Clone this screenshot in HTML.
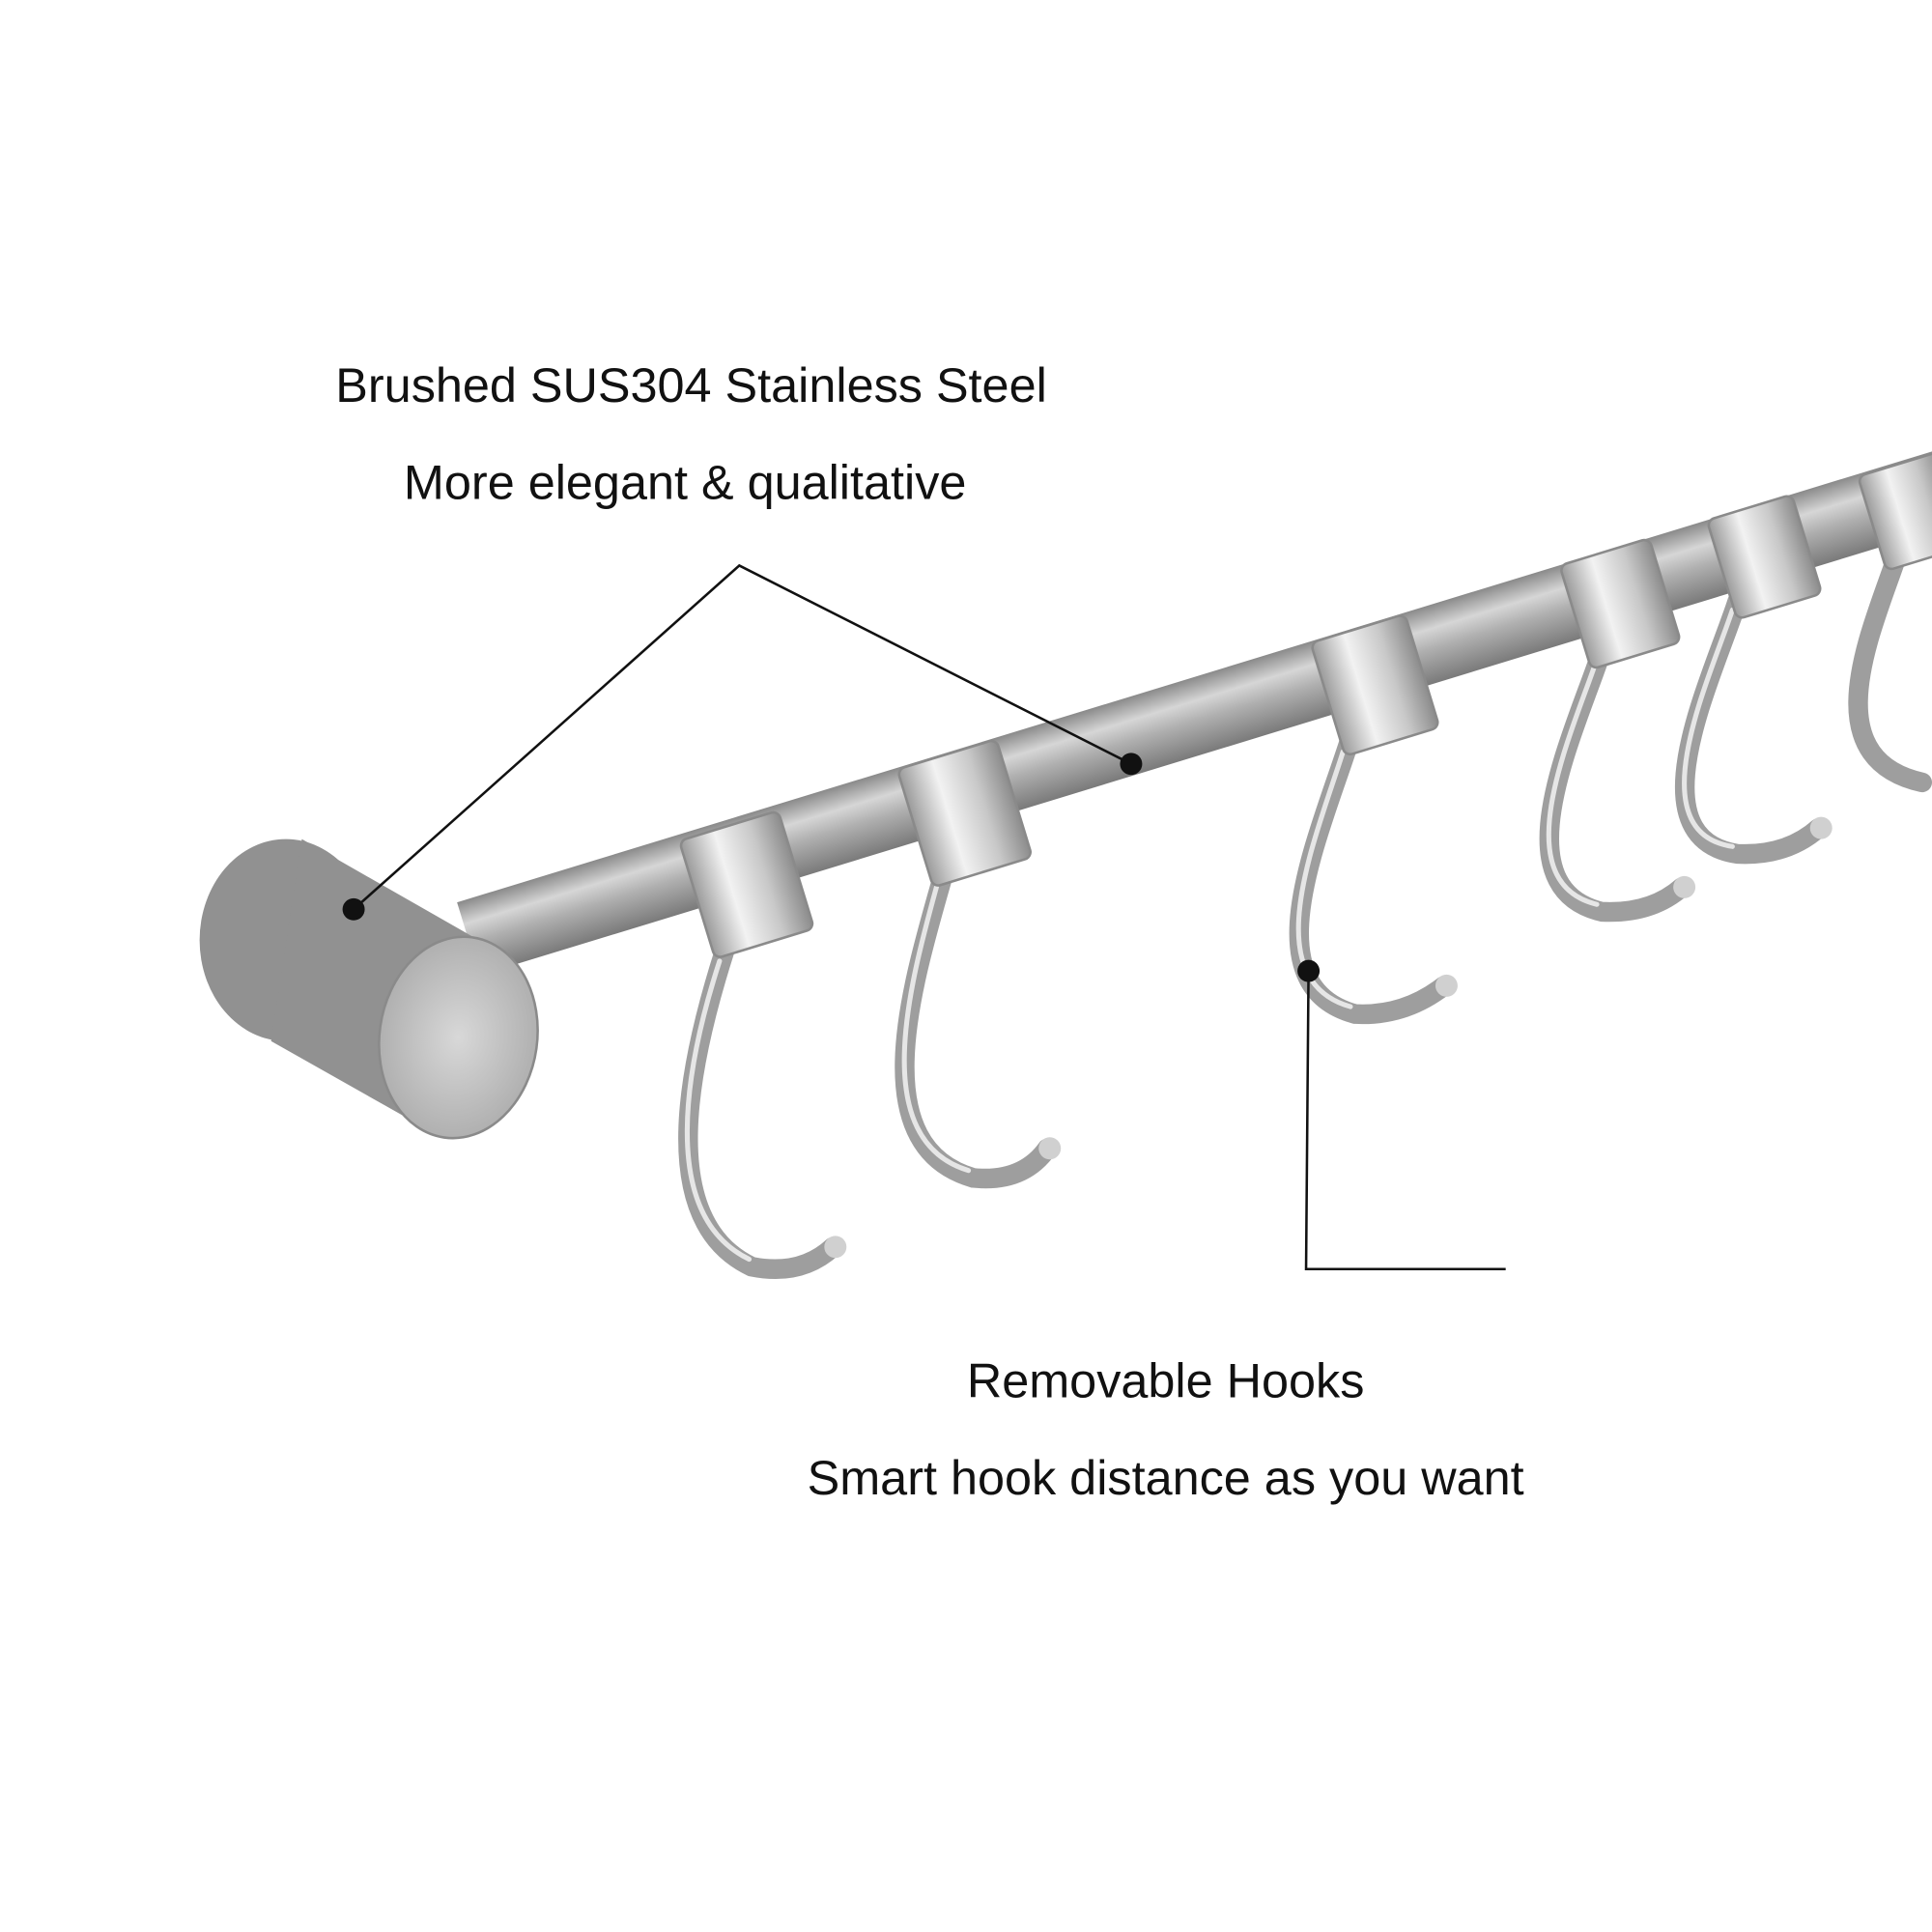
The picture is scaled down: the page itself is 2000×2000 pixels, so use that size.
<!DOCTYPE html>
<html><head><meta charset="utf-8"><style>
html,body{margin:0;padding:0;background:#fff;width:2000px;height:2000px;overflow:hidden}
svg{display:block}
text{font-family:"Liberation Sans",sans-serif;font-size:39.5px;fill:#111}
</style></head><body>
<svg width="2000" height="2000" viewBox="0 0 1568 1568" xmlns="http://www.w3.org/2000/svg">
<defs>
<linearGradient id="rod" x1="0" y1="0" x2="0" y2="1">
<stop offset="0" stop-color="#8a8a8a"/><stop offset="0.3" stop-color="#d6d6d6"/><stop offset="0.55" stop-color="#b0b0b0"/><stop offset="1" stop-color="#7a7a7a"/>
</linearGradient>
<linearGradient id="ring" x1="0" y1="0" x2="1" y2="0">
<stop offset="0" stop-color="#9a9a9a"/><stop offset="0.35" stop-color="#f2f2f2"/><stop offset="0.7" stop-color="#c8c8c8"/><stop offset="1" stop-color="#8c8c8c"/>
</linearGradient>
<radialGradient id="face" cx="0.5" cy="0.5" r="0.6">
<stop offset="0" stop-color="#d8d8d8"/><stop offset="1" stop-color="#a8a8a8"/>
</radialGradient>
</defs>
<rect width="1568" height="1568" fill="#fff"/>

<!-- rod -->
<g transform="translate(380,762) rotate(-17.0)">
<rect x="0" y="-31" width="1300" height="62" fill="url(#rod)"/>
</g>

<!-- hooks -->
<g fill="none" stroke="#9e9e9e" stroke-width="16" stroke-linecap="round">
<path d="M588,772 C560,860 530,990 610,1028 Q650,1036 676,1012"/>
<path d="M765,712 C740,800 700,930 790,956 Q830,960 850,932"/>
<path d="M1095,602 C1070,680 1015,800 1100,823 Q1140,825 1172,800"/>
<path d="M1300,528 C1280,590 1215,720 1300,740 Q1340,742 1365,720"/>
<path d="M1410,488 C1390,550 1325,680 1410,693 Q1450,695 1476,672"/>
<path d="M1540,450 C1520,510 1470,615 1560,635"/>
</g>
<g fill="none" stroke="#e6e6e6" stroke-width="4" stroke-linecap="round">
<path d="M584,780 C558,860 532,985 608,1022"/>
<path d="M760,720 C738,800 704,925 786,950"/>
<path d="M1090,610 C1068,680 1018,795 1096,817"/>
<path d="M1296,535 C1278,590 1218,715 1296,734"/>
<path d="M1406,495 C1388,550 1328,675 1406,687"/>
</g>
<g fill="#d0d0d0"><circle cx="678" cy="1012" r="9"/><circle cx="852" cy="932" r="9"/><circle cx="1174" cy="800" r="9"/><circle cx="1367" cy="720" r="9"/><circle cx="1478" cy="672" r="9"/></g>

<!-- rings -->
<g fill="url(#ring)" stroke="#8a8a8a" stroke-width="2">
<rect x="-42" y="-50" width="84" height="100" rx="6" transform="translate(606,718) rotate(-17.0)"/>
<rect x="-42" y="-50" width="84" height="100" rx="6" transform="translate(783,660) rotate(-17.0)"/>
<rect x="-40" y="-48" width="80" height="96" rx="6" transform="translate(1116,556) rotate(-17.0)"/>
<rect x="-38" y="-44" width="76" height="88" rx="6" transform="translate(1315,490) rotate(-17.0)"/>
<rect x="-36" y="-42" width="72" height="84" rx="6" transform="translate(1432,452) rotate(-17.0)"/>
<rect x="-34" y="-40" width="68" height="80" rx="6" transform="translate(1552,415) rotate(-17.0)"/>
</g>

<!-- end cap -->
<ellipse cx="232" cy="763" rx="70" ry="82" fill="#919191"/>
<path d="M245,681 L385,761 L360,924 L220,845 Z" fill="#919191"/>
<ellipse cx="372" cy="842" rx="64" ry="82" transform="rotate(8 372 842)" fill="url(#face)" stroke="#8a8a8a" stroke-width="2"/>

<!-- callouts -->
<g stroke="#111" stroke-width="2" fill="none">
<polyline points="287,738 600,459 918,620"/>
<polyline points="1062,788 1060,1030 1222,1030"/>
</g>
<g fill="#111">
<circle cx="287" cy="738" r="9"/><circle cx="918" cy="620" r="9"/><circle cx="1062" cy="788" r="9"/>
</g>

<text x="561" y="326" text-anchor="middle">Brushed SUS304 Stainless Steel</text>
<text x="556" y="405" text-anchor="middle">More elegant &amp; qualitative</text>
<text x="946" y="1134" text-anchor="middle">Removable Hooks</text>
<text x="946" y="1213" text-anchor="middle">Smart hook distance as you want</text>
</svg>
</body></html>
